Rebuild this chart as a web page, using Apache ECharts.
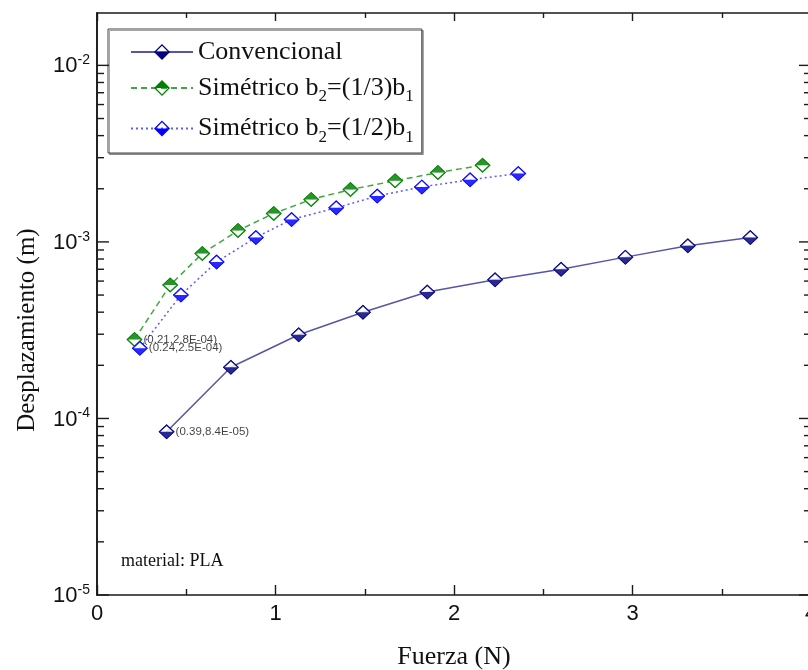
<!DOCTYPE html>
<html>
<head>
<meta charset="utf-8">
<script src="https://cdn.jsdelivr.net/npm/echarts@6/dist/echarts.min.js"></script>
<style>
html,body{margin:0;padding:0;background:#fff;}
#chart{width:808px;height:670px;}
</style>
</head>
<body>
<div id="chart"></div>
<script>
// ---- data ----
const seriesNames = ['Convencional', 'Simétrico b2=(1/3)b1', 'Simétrico b2=(1/2)b1'];
const convX  = [0.39, 0.75, 1.13, 1.49, 1.85, 2.23, 2.60, 2.96, 3.31, 3.66];
const convY  = [8.4e-5, 1.95e-4, 2.98e-4, 4.0e-4, 5.2e-4, 6.1e-4, 7.0e-4, 8.2e-4, 9.5e-4, 1.06e-3];
const sim13X = [0.21, 0.41, 0.59, 0.79, 0.99, 1.20, 1.42, 1.67, 1.91, 2.16];
const sim13Y = [2.8e-4, 5.7e-4, 8.6e-4, 1.16e-3, 1.45e-3, 1.74e-3, 1.98e-3, 2.22e-3, 2.47e-3, 2.72e-3];
const sim12X = [0.24, 0.47, 0.67, 0.89, 1.09, 1.34, 1.57, 1.82, 2.09, 2.36];
const sim12Y = [2.5e-4, 5.0e-4, 7.7e-4, 1.06e-3, 1.34e-3, 1.56e-3, 1.82e-3, 2.05e-3, 2.25e-3, 2.44e-3];
const firstLabels = ['(0.39,8.4E-05)', '(0.21,2.8E-04)', '(0.24,2.5E-04)'];
const xTickLabels = ['0', '1', '2', '3', '4'];
const yMin = 1e-5, yMax = 0.0198;
const xMin = 0, xMax = 4;
const minorMantissas = [2, 3, 4, 5, 6, 7, 8, 9];
const decades = [-5, -4, -3, -2];
const annotationText = 'material: PLA';
const xName = 'Fuerza (N)';
const yName = 'Desplazamiento (m)';

// ---- styling ----
const SERIF = '"Liberation Serif", "DejaVu Serif", serif';
const SANS = '"Liberation Sans", Arial, sans-serif';
const markerColors = ['#000080', '#008000', '#0000ff'];
const lineColors = ['#5555aa', '#40a840', '#5c5cff'];
const lineTypes = ['solid', [6, 4], [2, 3]];
const AX = '#1a1a1a';

// half-filled diamonds: ring + filled half
const ring = 'M10,0 L20,10 L10,20 L0,10 Z M10,2.3 L2.3,10 L10,17.7 L17.7,10 Z ';
const bottomFilled = 'path://' + ring + 'M0,10 L20,10 L10,20 Z';
const topFilled = 'path://' + ring + 'M0,10 L10,0 L20,10 Z';
const symbols = [bottomFilled, topFilled, bottomFilled];

function zip(xs, ys) { return xs.map((x, i) => [x, ys[i]]); }
const datasets = [zip(convX, convY), zip(sim13X, sim13Y), zip(sim12X, sim12Y)];

// y ticks (major at decades, minor at 2..9 of each decade)
const majorTickValues = decades.map(d => [0, Math.pow(10, d)]);
const minorTickValues = [];
decades.forEach(d => minorMantissas.forEach(m => {
  const v = m * Math.pow(10, d);
  if (v < yMax) minorTickValues.push([0, v]);
}));

const series = [];
datasets.forEach((data, i) => {
  series.push({
    name: seriesNames[i], type: 'line', data: data, z: 2,
    symbol: symbols[i], symbolSize: [16, 15], symbolKeepAspect: false,
    itemStyle: { color: markerColors[i], borderWidth: 0 },
    lineStyle: { color: lineColors[i], width: 1.5, type: lineTypes[i] },
    emphasis: { disabled: true }, silent: true, animation: false
  });
});
datasets.forEach((data, i) => {
  series.push({
    name: 'bg' + i, type: 'scatter', data: data, z: 3 + i * 2,
    symbol: 'diamond', symbolSize: [14, 13],
    itemStyle: { color: '#ffffff' }, silent: true, animation: false
  });
  series.push({
    name: 'mk' + i, type: 'scatter', z: 4 + i * 2,
    data: data.map((p, j) => j === 0 ? {
      value: p,
      label: { show: true, position: 'right', distance: 1, formatter: firstLabels[i],
               fontFamily: SANS, fontSize: 11.5, color: '#111' }
    } : p),
    symbol: symbols[i], symbolSize: [16, 15], symbolKeepAspect: false,
    itemStyle: { color: markerColors[i], borderWidth: 0 },
    silent: true, animation: false
  });
});
function tickSeries(name, values, len) {
  return {
    name: name, type: 'custom', data: values, z: 20, silent: true, animation: false, clip: false,
    renderItem: function (params, api) {
      const v = api.value(1);
      const pl = api.coord([xMin, v]);
      const pr = api.coord([xMax, v]);
      return { type: 'group', children: [
        { type: 'line', shape: { x1: pl[0], y1: pl[1], x2: pl[0] + len, y2: pl[1] }, style: { stroke: AX, lineWidth: 1.4 } },
        { type: 'line', shape: { x1: pr[0] - len, y1: pr[1], x2: pr[0], y2: pr[1] }, style: { stroke: AX, lineWidth: 1.4 } }
      ]};
    }
  };
}
series.push(tickSeries('minorTicks', minorTickValues, 7));
series.push(tickSeries('majorTicks', majorTickValues, 12));

const axisLine = { show: true, lineStyle: { color: AX, width: 1.6 } };

const option = {
  animation: false,
  backgroundColor: '#ffffff',
  grid: { left: 97, top: 13, width: 714, height: 582, outerBoundsMode: 'none', containLabel: false },
  title: {
    text: annotationText, left: 116, top: 547,
    textStyle: { fontFamily: SERIF, fontSize: 18, fontWeight: 'normal', color: '#111' }
  },
  legend: {
    data: seriesNames, orient: 'vertical', left: 108, top: 29,
    itemWidth: 62, itemHeight: 20, itemGap: 10,
    padding: [10, 8, 7, 22],
    backgroundColor: '#ffffff', borderColor: '#444', borderWidth: 1,
    shadowColor: 'rgba(0,0,0,0.35)', shadowOffsetX: 1.5, shadowOffsetY: 1.5, shadowBlur: 0,
    selectedMode: false,
    formatter: function (name) { return '{n|' + name.replace(/b(\d)/g, 'b}{sub|$1}{n|') + '}'; },
    textStyle: {
      fontFamily: SERIF, fontSize: 26, color: '#111',
      rich: {
        n: { fontFamily: SERIF, fontSize: 26, color: '#111', verticalAlign: 'middle' },
        sub: { fontFamily: SERIF, fontSize: 17, color: '#111', verticalAlign: 'bottom', padding: [18, 0, 0, 0] }
      }
    }
  },
  xAxis: [{
    type: 'value', position: 'bottom', min: xMin, max: xMax, interval: 1,
    name: xName, nameLocation: 'middle', nameGap: 49,
    nameTextStyle: { fontFamily: SERIF, fontSize: 26, color: '#111' },
    axisLine: axisLine,
    axisTick: { show: true, inside: true, length: 10, lineStyle: { color: AX, width: 1.4 } },
    minorTick: { show: true, splitNumber: 2, length: 6, lineStyle: { color: AX, width: 1.4 } },
    axisLabel: { show: true, margin: 8, fontFamily: SANS, fontSize: 22, color: '#111',
                 formatter: v => xTickLabels[Math.round(v)] },
    splitLine: { show: false }
  }, {
    type: 'value', position: 'top', min: xMin, max: xMax, interval: 1,
    axisLine: axisLine,
    axisTick: { show: true, inside: true, length: 8, lineStyle: { color: AX, width: 1.4 } },
    minorTick: { show: true, splitNumber: 2, length: 5, lineStyle: { color: AX, width: 1.4 } },
    axisLabel: { show: false }, splitLine: { show: false }
  }],
  yAxis: [{
    type: 'log', logBase: 10, position: 'left', min: yMin, max: yMax,
    name: yName, nameLocation: 'middle', nameGap: 57, nameRotate: 90,
    nameTextStyle: { fontFamily: SERIF, fontSize: 25, color: '#111', padding: [0, 52, 0, 0] },
    axisLine: axisLine,
    axisTick: { show: false },
    axisLabel: {
      show: true, margin: 7, showMaxLabel: false, color: '#111',
      formatter: function (v) {
        const e = Math.round(Math.log10(v));
        return '{b|10}{s|' + e + '}';
      },
      rich: {
        b: { fontFamily: SANS, fontSize: 22, color: '#111', verticalAlign: 'bottom' },
        s: { fontFamily: SANS, fontSize: 14, color: '#111', verticalAlign: 'top', padding: [0, 0, 10, 0] }
      }
    },
    splitLine: { show: false }
  }, {
    type: 'log', logBase: 10, position: 'right', min: yMin, max: yMax,
    axisLine: axisLine,
    axisTick: { show: false },
    axisLabel: { show: false }, splitLine: { show: false }
  }],
  series: series
};

const chart = echarts.init(document.getElementById('chart'), null, { renderer: 'canvas' });
chart.setOption(option);
</script>
</body>
</html>
